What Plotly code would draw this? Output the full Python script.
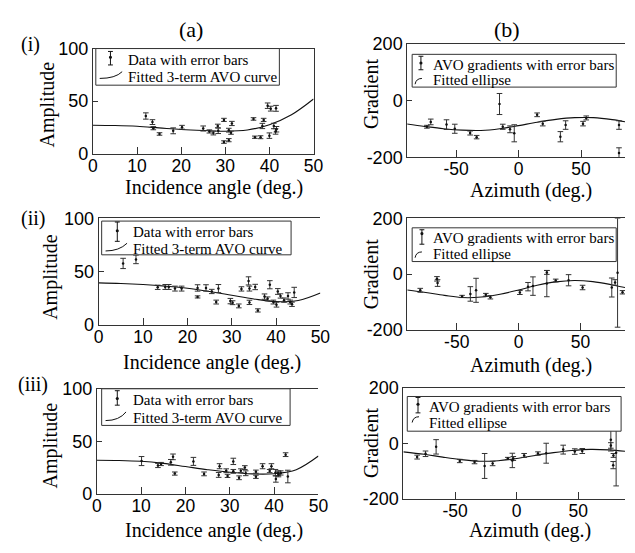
import plotly.graph_objects as go

W, H = 635, 553

# ---------------- data ----------------
angle_curve = [0, 5, 10, 15, 20, 25, 30, 35, 40, 45, 50]

A1_x = [12.0, 13.5, 13.7, 15.1, 18.2, 20.2, 25.0, 26.4, 27.3, 28.3, 28.4, 29.7, 29.7, 30.8, 30.8,
        31.5, 31.3, 36.4, 36.7, 38.0, 38.7, 38.4, 40.0, 39.6, 40.3, 41.5, 41.0, 41.6, 41.4]
A1_y = [35.8, 30.0, 24.2, 18.7, 21.7, 25.1, 23.9, 21.1, 19.6, 26.3, 21.7, 32.1, 11.0, 12.8, 22.3,
        28.7, 19.9, 33.0, 15.6, 15.6, 32.1, 26.3, 17.1, 45.6, 42.8, 43.1, 26.3, 23.2, 21.1]
A1_e = [3.0, 2.3, 1.5, 1.2, 2.8, 1.8, 2.4, 1.5, 1.8, 1.7, 2.6, 1.5, 1.2, 1.5, 1.8,
        2.0, 1.5, 1.2, 1.1, 1.4, 1.5, 2.5, 2.6, 2.6, 2.3, 2.8, 2.6, 2.6, 2.6]
A1_curve = [27, 26.7, 26, 24.5, 23, 22, 21.3, 22.5, 27.5, 37, 52]

A2_x = [5.5, 8.4, 13.3, 15.0, 15.8, 17.2, 18.7, 22.3, 22.3, 24.2, 25.5, 27.0, 26.5, 29.7, 30.2, 31.6,
        32.2, 33.8, 34.0, 34.0, 35.3, 35.9, 37.4, 38.6, 38.1, 39.4, 40.1, 40.4, 41.0, 41.8, 42.7, 43.6,
        44.1, 43.2]
A2_y = [57.7, 61.5, 35.4, 35.7, 35.7, 34.2, 34.2, 34.8, 26.4, 34.8, 31.5, 34.2, 21.6, 22.5, 21.0, 18.0,
        33.9, 41.4, 34.2, 21.3, 35.7, 13.8, 26.7, 37.8, 24.6, 21.6, 19.2, 31.5, 27.3, 23.4, 27.3, 19.5,
        30.6, 21.6]
A2_e = [4.8, 4.0, 2.0, 2.3, 2.3, 2.3, 2.3, 3.0, 1.0, 3.0, 2.0, 3.8, 1.8, 2.5, 1.8, 1.8,
        2.0, 3.8, 2.3, 2.0, 2.5, 1.5, 2.5, 3.8, 1.8, 1.8, 2.3, 2.7, 2.0, 2.0, 3.0, 2.0,
        4.8, 1.8]
A2_curve = [39.5, 39, 38, 36.5, 34.5, 31.5, 28, 24.5, 22, 23, 30]

A3_x = [10.1, 13.8, 14.5, 16.7, 17.2, 17.6, 21.8, 24.2, 27.7, 27.5, 29.2, 29.5, 30.8, 30.8, 32.1,
        32.5, 33.4, 33.6, 35.9, 35.9, 37.4, 39.4, 39.0, 40.3, 40.4, 40.9, 41.5, 42.6, 43.1, 41.0]
A3_y = [31.2, 27.0, 28.4, 30.0, 35.2, 19.3, 30.9, 19.0, 26.3, 18.0, 22.0, 17.1, 30.9, 21.4, 15.3,
        22.0, 25.0, 19.6, 21.1, 16.2, 26.3, 26.3, 21.7, 20.2, 14.1, 19.6, 19.9, 37.3, 16.5, 18.5]
A3_e = [4.3, 2.0, 1.5, 2.7, 2.7, 1.5, 3.8, 1.8, 2.4, 2.3, 1.8, 1.5, 3.0, 1.8, 1.8,
        1.8, 1.8, 2.3, 1.5, 1.5, 2.4, 2.4, 1.5, 3.0, 3.0, 2.3, 2.0, 1.8, 6.0, 2.3]
A3_curve = [32, 31.8, 31, 29, 26, 23, 20.5, 19, 19.2, 23, 36]

az_curve = [-90, -75, -60, -45, -30, -15, 0, 15, 30, 45, 60, 75, 90]

B1_x = [-73.3, -70.2, -57.6, -51.0, -38.7, -33.5, -15.2, -12.6, -6.8, -3.4, 14.9, 19.4, 33.5, 37.7,
        51.6, 54.2, 80.4, 80.4]
B1_y = [-92, -75, -84.5, -99, -114, -128.5, -12, -92, -101, -115, -50, -81, -127, -86, -81, -61, -86, -184]
B1_e = [5, 10, 17, 16, 7, 6, 37, 9, 12, 30, 6.5, 8, 18, 15, 8, 7, 15, 18]
B1_curve = [-82, -91, -99, -104, -105, -99, -88, -76, -66, -60, -60, -67, -78]

B2_x = [-79.5, -66, -65.5, -45.7, -39, -34.4, -26.5, -22.8, 1, 7.6, 11.6, 22.8, 22.8, 30, 40.4,
        51.7, 75.3, 78, 80, 84]
B2_y = [-58, -17, -32, -80, -71, -58, -74, -83, -66, -45, -43, -34, 6, -23, -22, -48, -48, -30, 5, -65]
B2_e = [7, 8, 12, 4, 26, 43, 5, 6, 7, 15, 33, 47, 7, 5, 20, 8, 34, 10, 195, 6]
B2_curve = [-57, -66, -76, -84, -82, -72, -57, -40, -28, -23, -27, -38, -52]

B3_x = [-80.8, -74, -65.4, -46.2, -34.2, -26, -19.5, -7.2, -3.5, -2.7, 6.1, 17.3, 24, 37.8, 47.2,
        53.3, 76.5, 76.5, 78.6, 78.4, 80.8]
B3_y = [-50, -38, -13, -64, -68, -82, -73, -55, -62, -55, -44, -37, -36, -23, -30, -28, 13, -8, -44, -79, -34]
B3_e = [7, 10, 26, 6, 6, 45, 8, 4, 26, 7, 7, 6, 36, 16, 10, 9, 41, 10, 7, 13, 120]
B3_az_curve = [-92, -75, -60, -45, -30, -15, 0, 15, 30, 45, 60, 75, 88]
B3_curve = [-31, -40, -50, -59, -65, -63, -55, -44, -34, -26, -22, -24, -29]

amp_ticks = [0, 50, 100]
amp_labels = ["0", "50", "100"]
angle_ticks = [0, 10, 20, 30, 40, 50]
angle_labels = ["0", "10", "20", "30", "40", "50"]
grad_ticks = [-200, 0, 200]
grad_labels = ["-200", "0", "200"]
az_ticks = [-50, 0, 50]
az_labels = ["-50", "0", "50"]

# ---------------- helpers ----------------
def PX(x):
    return x / W

def PY(y):
    return 1 - y / H

SERIF = "Liberation Serif"
SANS = "Liberation Sans"
LINE = "#333333"

fig = go.Figure()

panels = [
    ("1", A1_x, A1_y, A1_e, angle_curve, A1_curve, (90, 316), (40, 149), [0, 50], [0, 100],
     (angle_ticks, angle_labels), (amp_ticks, amp_labels), True),
    ("2", B1_x, B1_y, B1_e, az_curve, B1_curve, (412, 635), (35, 153), [-89, 85.2], [-200, 200],
     (az_ticks, az_labels), (grad_ticks, grad_labels), False),
    ("3", A2_x, A2_y, A2_e, angle_curve, A2_curve, (96, 323), (216, 327), [0, 50], [0, 100],
     (angle_ticks, angle_labels), (amp_ticks, amp_labels), False),
    ("4", B2_x, B2_y, B2_e, az_curve, B2_curve, (412, 635), (216, 332), [-90, 86], [-200, 200],
     (az_ticks, az_labels), (grad_ticks, grad_labels), False),
    ("5", A3_x, A3_y, A3_e, angle_curve, A3_curve, (94, 321), (393, 502), [0, 50], [0, 100],
     (angle_ticks, angle_labels), (amp_ticks, amp_labels), False),
    ("6", B3_x, B3_y, B3_e, B3_az_curve, B3_curve, (408, 635), (392, 507), [-92, 88], [-200, 200],
     (az_ticks, az_labels), (grad_ticks, grad_labels), False),
]

layout_axes = {}
for (n, xs, ys, es, cx, cy, dx, dy, xr, yr, xt, yt, fullbox) in panels:
    xa = "x" if n == "1" else "x" + n
    ya = "y" if n == "1" else "y" + n
    fig.add_trace(go.Scatter(
        x=cx, y=cy, mode="lines", line=dict(color="#111111", width=1.1, shape="spline", smoothing=1.0),
        xaxis=xa, yaxis=ya, showlegend=False, hoverinfo="skip"))
    fig.add_trace(go.Scatter(
        x=xs, y=ys, mode="markers",
        marker=dict(size=2.5, color="#111111"),
        error_y=dict(type="data", array=es, visible=True, color="#333333", thickness=1, width=2.8),
        xaxis=xa, yaxis=ya, showlegend=False))
    kx = "xaxis" if n == "1" else "xaxis" + n
    ky = "yaxis" if n == "1" else "yaxis" + n
    layout_axes[kx] = dict(
        domain=[PX(dx[0]), PX(dx[1])], range=xr, anchor=ya,
        showgrid=False, zeroline=False, showline=True, linecolor=LINE, linewidth=1, mirror=True,
        ticks="inside", ticklen=7, tickcolor=LINE, tickvals=xt[0], ticktext=xt[1],
        ticklabelstandoff=-4,
        tickfont=dict(family=SANS, size=17.5, color="black"))
    layout_axes[ky] = dict(
        domain=[PY(dy[1]), PY(dy[0])], range=yr, anchor=xa,
        showgrid=False, zeroline=False, showline=True, linecolor=LINE, linewidth=1, mirror=fullbox,
        ticks="inside", ticklen=5, tickcolor=LINE, tickvals=yt[0], ticktext=yt[1],
        tickfont=dict(family=SANS, size=18, color="black"))

shapes = []
annotations = []

def add_text(x, y, text, size, family=SERIF, xanchor="center", textangle=0):
    annotations.append(dict(x=PX(x), y=PY(y), xref="paper", yref="paper", text=text, showarrow=False,
                            xanchor=xanchor, yanchor="middle", textangle=textangle,
                            font=dict(family=family, size=size, color="black")))

def line(x0, y0, x1, y1, w=1, color="#111111"):
    shapes.append(dict(type="line", xref="paper", yref="paper", x0=PX(x0), y0=PY(y0), x1=PX(x1), y1=PY(y1),
                       line=dict(color=color, width=w), layer="above"))

def legend(box, t1, t2, ty1, ty2, tx, err, curve):
    x0, y0, x1, y1 = box
    shapes.append(dict(type="rect", xref="paper", yref="paper", x0=PX(x0), y0=PY(y1), x1=PX(x1), y1=PY(y0),
                       line=dict(color=LINE, width=1), fillcolor="white", layer="above"))
    add_text(tx, ty1, t1, 15, xanchor="left")
    add_text(tx, ty2, t2, 15, xanchor="left")
    ex, et, eb, ed = err
    line(ex, et, ex, eb)
    line(ex - 2.5, et, ex + 2.5, et)
    line(ex - 2.5, eb, ex + 2.5, eb)
    shapes.append(dict(type="circle", xref="paper", yref="paper", x0=PX(ex - 1.6), x1=PX(ex + 1.6),
                       y0=PY(ed + 1.6), y1=PY(ed - 1.6), fillcolor="#111111", line=dict(width=0), layer="above"))
    (ax, ay), (qx, qy), (bx, by) = curve
    path = "M %f,%f Q %f,%f %f,%f" % (PX(ax), PY(ay), PX(qx), PY(qy), PX(bx), PY(by))
    shapes.append(dict(type="path", xref="paper", yref="paper", path=path,
                       line=dict(color="#111111", width=1), layer="above"))

L1a, L2a = "Data with error bars", "Fitted 3-term AVO curve"
L1b, L2b = "AVO gradients with error bars", "Fitted ellipse"
legend((93, 40, 281, 78), L1a, L2a, 52, 70, 124, (108, 43, 57, 49), ((97, 71), (113, 71), (120, 64)))
legend((99, 219, 293, 254), L1a, L2a, 230, 248, 129, (115, 220, 240, 229), ((103, 250), (117, 250), (125, 242)))
legend((99, 393, 292, 431), L1a, L2a, 405, 423, 129, (115, 395, 410, 403), ((103, 426), (117, 426), (124, 417)))
legend((417, 46, 626, 80), L1b, L2b, 57, 73, 436, (426, 48, 62, 55), ((420, 77), (421, 71), (427, 71)))
legend((417, 226, 626, 261), L1b, L2b, 237, 253, 436, (427, 228, 243, 232), ((420, 257), (421, 251), (427, 251)))
legend((412, 401, 631, 437), L1b, L2b, 412, 429, 432, (423, 402, 418, 409), ((417, 428), (418, 422), (424, 422)))

# titles
add_text(190, 20, "(a)", 22)
add_text(514, 20, "(b)", 22)
add_text(26, 36, "(i)", 20)
add_text(29, 216, "(ii)", 20)
add_text(29, 389, "(iii)", 20)

for (x, y) in [(43, 98), (47, 277), (47, 452)]:
    add_text(x, y, "Amplitude", 20, textangle=-90)
for (x, y) in [(375, 87), (375, 274), (375, 449)]:
    add_text(x, y, "Gradient", 20, textangle=-90)
for (x, y) in [(214, 184), (212, 366), (214, 540)]:
    add_text(x, y, "Incidence angle (deg.)", 20)
for (x, y) in [(539, 187), (539, 369), (538, 540)]:
    add_text(x, y, "Azimuth (deg.)", 20)

fig.update_layout(
    width=W, height=H, margin=dict(l=0, r=0, t=0, b=0),
    paper_bgcolor="white", plot_bgcolor="white",
    shapes=shapes, annotations=annotations, showlegend=False,
    **layout_axes)

fig.write_html("out.html")
